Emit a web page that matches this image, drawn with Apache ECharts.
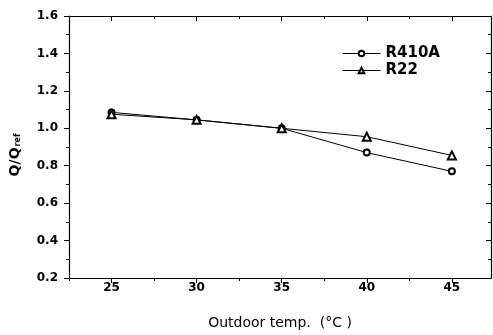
<!DOCTYPE html>
<html><head><meta charset="utf-8">
<script src="https://cdn.jsdelivr.net/npm/echarts@6/dist/echarts.min.js"></script>
<style>html,body{margin:0;padding:0;background:#fff}#c{width:493px;height:335px}</style>
</head><body><div id="c"></div>
<script>
var temps = [25, 30, 35, 40, 45];
var r410a = [1.085, 1.045, 1.0, 0.87, 0.77];
var r22 = [1.075, 1.045, 1.0, 0.955, 0.855];
var xMajor = [25, 30, 35, 40, 45];
var xMinor = [22.5, 27.5, 32.5, 37.5, 42.5, 47.5];
var seriesNames = ['R410A', 'R22'];
var xTitle = 'Outdoor temp.  (°C )';

var font = 'DejaVu Sans, sans-serif';
var chart = echarts.init(document.getElementById('c'));
function pairs(v){ return temps.map(function(t,i){return [t, v[i]];}); }
var xBase = {type:'value', min:22.5, max:47.3, gridIndex:0};
chart.setOption({
  animation:false,
  grid:{left:69, right:2, top:16, bottom:54},
  legend:{
    data:seriesNames,
    orient:'vertical', left:337, top:41, itemWidth:38, itemHeight:7, itemGap:2,
    lineStyle:{width:1, color:'#000'}, itemStyle:{borderWidth:0.8, color:'#000', borderColor:'#000'},
    textStyle:{fontFamily:font, fontSize:15, fontWeight:'bold', color:'#000'}
  },
  graphic:[
    {type:'text', x:15, y:155, rotation:Math.PI/2,
     style:{text:'{a|Q/Q}{s|ref}', align:'center', verticalAlign:'middle',
            rich:{a:{fontFamily:font, fontSize:14, fontWeight:'bold', fill:'#000'},
                  s:{fontFamily:font, fontSize:8, fontWeight:'bold', fill:'#000', padding:[6,0,0,1]}}}}
  ],
  xAxis:[
    Object.assign({}, xBase, {
      position:'bottom',
      name:xTitle, nameLocation:'middle', nameGap:38,
      nameTextStyle:{fontFamily:font, fontSize:14, color:'#000'},
      axisLine:{onZero:false, lineStyle:{color:'#000', width:1.2}},
      axisTick:{customValues:xMajor, length:5, lineStyle:{color:'#000'}},
      axisLabel:{customValues:xMajor, margin:4, fontFamily:font, fontSize:12, fontWeight:'bold', color:'#000'},
      splitLine:{show:false}
    }),
    Object.assign({}, xBase, {
      position:'bottom',
      axisLine:{show:false},
      axisTick:{customValues:xMinor, length:3, lineStyle:{color:'#000'}},
      axisLabel:{show:false}, splitLine:{show:false}
    }),
    Object.assign({}, xBase, {
      position:'top',
      axisLine:{onZero:false, lineStyle:{color:'#000', width:1.2}},
      axisTick:{customValues:xMajor, inside:true, length:5, lineStyle:{color:'#000'}},
      axisLabel:{show:false}, splitLine:{show:false}
    }),
    Object.assign({}, xBase, {
      position:'top',
      axisLine:{show:false},
      axisTick:{customValues:xMinor, inside:true, length:3, lineStyle:{color:'#000'}},
      axisLabel:{show:false}, splitLine:{show:false}
    })
  ],
  yAxis:[
    {type:'value', min:0.2, max:1.6, interval:0.2, position:'left',
     axisLine:{lineStyle:{color:'#000', width:1.2}},
     axisTick:{length:5, lineStyle:{color:'#000'}},
     minorTick:{show:true, splitNumber:2, length:3, lineStyle:{color:'#000'}},
     axisLabel:{margin:11, fontFamily:font, fontSize:12, fontWeight:'bold', color:'#000', formatter:function(v){return v.toFixed(1);}},
     splitLine:{show:false}},
    {type:'value', min:0.2, max:1.6, interval:0.2, position:'right',
     axisLine:{show:true, lineStyle:{color:'#000', width:1.2}},
     axisTick:{inside:true, length:5, lineStyle:{color:'#000'}},
     minorTick:{show:true, splitNumber:2, length:3, lineStyle:{color:'#000'}},
     axisLabel:{show:false}, splitLine:{show:false}}
  ],
  series:[
    {name:seriesNames[0], type:'line', data:pairs(r410a), symbol:'emptyCircle', symbolSize:6,
     lineStyle:{color:'#000', width:1}, itemStyle:{color:'#000', borderWidth:1}},
    {name:seriesNames[1], type:'line', data:pairs(r22), symbol:'emptyTriangle', symbolSize:8,
     lineStyle:{color:'#000', width:1}, itemStyle:{color:'#000', borderWidth:1}}
  ]
});
</script></body></html>
